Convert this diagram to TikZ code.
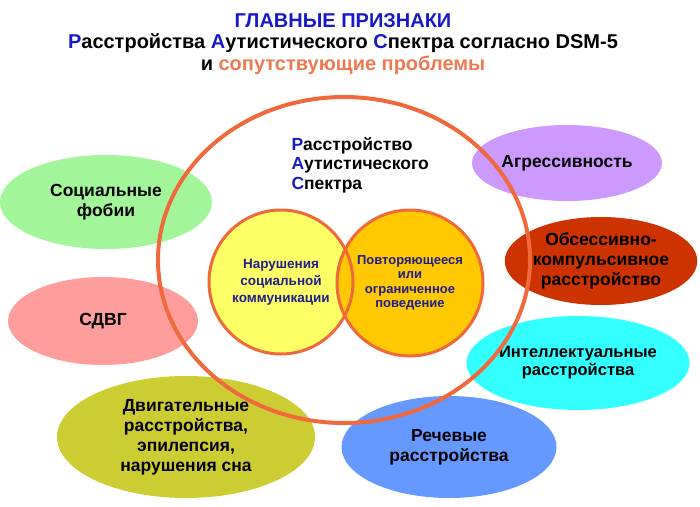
\documentclass[tikz,border=0pt]{standalone}
\usepackage{fontspec}
\setmainfont{Liberation Sans}
\usetikzlibrary{shapes.geometric}
\definecolor{ttlblue}{RGB}{25,25,200}
\definecolor{ttlorange}{RGB}{240,120,80}
\definecolor{ringred}{RGB}{240,105,60}
\definecolor{coretext}{RGB}{30,30,140}
\definecolor{phobiagreen}{RGB}{163,245,154}
\definecolor{adhdpink}{RGB}{255,156,156}
\definecolor{motorolive}{RGB}{204,204,51}
\definecolor{speechblue}{RGB}{102,153,255}
\definecolor{aggrpurple}{RGB}{204,153,255}
\definecolor{ocdred}{RGB}{204,51,0}
\definecolor{intelcyan}{RGB}{51,255,255}
\definecolor{socyellow}{RGB}{255,255,102}
\definecolor{repgold}{RGB}{255,200,0}
\tikzset{x=1pt, y=-1pt,
blob/.style={ % Sets the properties for each outer ellipse
ellipse, inner sep=0pt, align=center,
font=\bfseries\fontsize{17.5}{20}\selectfont},
core/.style={ % Inner circles
circle, minimum size=144pt, inner sep=0pt, align=center,
text=coretext},
ring/.style={draw=ringred, line width=3pt}}

\begin{document}
\begin{tikzpicture}
\useasboundingbox (0,0) rectangle (700,506);
\node[align=center, font=\bfseries\fontsize{20}{21.5}\selectfont] (title) at (343,44)
{{\color{ttlblue}ГЛАВНЫЕ ПРИЗНАКИ}\\
{\color{ttlblue}Р}асстройства {\color{ttlblue}А}утистического {\color{ttlblue}С}пектра согласно DSM-5\\
и {\color{ttlorange}сопутствующие проблемы}};
\node[blob, fill=phobiagreen, minimum width=212, minimum height=94] (phobia) at (106,202) {Социальные\\фобии};
\node[blob, fill=adhdpink, minimum width=190, minimum height=88] (adhd) at (103,321) {СДВГ};
\node[blob, fill=motorolive, minimum width=258, minimum height=122] (motor) at (186,437) {Двигательные\\расстройства,\\эпилепсия,\\нарушения сна};
\node[blob, fill=speechblue, minimum width=215, minimum height=102] (speech) at (449,447) {Речевые\\расстройства};
\node[blob, fill=aggrpurple, minimum width=190, minimum height=76] (aggr) at (567,163) {Агрессивность};
\node[blob, fill=ocdred, minimum width=188, minimum height=88] (ocd) at (601,261) {Обсессивно-\\компульсивное\\расстройство};
\node[blob, fill=intelcyan, minimum width=202, minimum height=94, font=\bfseries\fontsize{16.5}{18}\selectfont] (intel) at (578,363) {Интеллектуальные\\расстройства};
\node[anchor=west, align=left, font=\bfseries\fontsize{17.5}{19.5}\selectfont] (asdlabel) at (288,165)
{{\color{ttlblue}Р}асстройство\\{\color{ttlblue}А}утистического\\{\color{ttlblue}С}пектра};
\node[core, fill=socyellow, font=\bfseries\fontsize{13.5}{17}\selectfont] (soc) at (281,282) {Нарушения\\социальной\\коммуникации};
\node[core, fill=repgold, minimum size=146pt, font=\bfseries\fontsize{13}{14.5}\selectfont] (rep) at (410,283) {Повторяющееся\\или\\ограниченное\\поведение};
\draw[ring] (soc.center) circle (72pt);
\draw[ring] (rep.center) circle (73pt);
\node[ellipse, draw=ringred, line width=4pt, minimum width=372, minimum height=326] (asd) at (344,260) {};
\end{tikzpicture}
\end{document}
